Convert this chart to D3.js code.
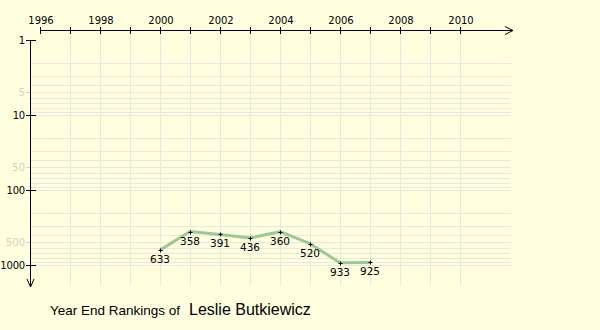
<!DOCTYPE html>
<html>
<head>
<meta charset="utf-8">
<script src="https://cdn.jsdelivr.net/npm/d3@7"></script>
<style>
body { margin: 0; background: #ffffe0; }
svg { display: block; }
</style>
</head>
<body>
<div id="chart"></div>
<script>
// rankings per year
var years = [2000, 2001, 2002, 2003, 2004, 2005, 2006, 2007];
var ranks = [633, 358, 391, 436, 360, 520, 933, 925];
var yearTicks = [1996, 1998, 2000, 2002, 2004, 2006, 2008, 2010];
var rankTicks = [1, 10, 100, 1000];
var rankMinorTicks = [5, 50, 500];
var playerName = "Leslie Butkiewicz";

var width = 600, height = 330;
var labelFont = "DejaVu Sans, Verdana, sans-serif";

var svg = d3.select("#chart")
    .append("svg")
    .attr("width", width)
    .attr("height", height)
    .style("background", "#ffffe0");

var x = d3.scaleLinear()
    .domain([1996, 2010])
    .range([40, 460]);

var y = d3.scaleLog()
    .domain([1, 1000])
    .range([40, 265]);

// grid lines
var gridY = [];
[1, 10, 100].forEach(function(d) {
    for (let k = 1; k <= 9; k++) gridY.push(d * k);
});
gridY.push(1000);

svg.append("g")
    .selectAll("line")
    .data(gridY.filter(d => d > 1))
    .enter()
    .append("line")
    .attr("x1", 30).attr("x2", 511)
    .attr("y1", d => Math.round(y(d)) + 0.5)
    .attr("y2", d => Math.round(y(d)) + 0.5)
    .attr("stroke", "#e8e8e0")
    .attr("stroke-width", 1);

svg.append("g")
    .selectAll("line")
    .data(d3.range(1997, 2011))
    .enter()
    .append("line")
    .attr("x1", d => Math.round(x(d)) + 0.5)
    .attr("x2", d => Math.round(x(d)) + 0.5)
    .attr("y1", 30).attr("y2", 286)
    .attr("stroke", "#e8e8e0")
    .attr("stroke-width", 1);

// top axis
var topAxis = svg.append("g");
topAxis.append("line")
    .attr("x1", x(1996)).attr("x2", 513)
    .attr("y1", 30.5).attr("y2", 30.5)
    .attr("stroke", "#000");
topAxis.append("path")
    .attr("d", "M505,26.5 L513,30.5 L505,34.5")
    .attr("fill", "none")
    .attr("stroke", "#000");
topAxis.selectAll(".tk")
    .data(d3.range(1996, 2011))
    .enter()
    .append("line")
    .attr("x1", d => Math.round(x(d)) + 0.5)
    .attr("x2", d => Math.round(x(d)) + 0.5)
    .attr("y1", 27).attr("y2", 34)
    .attr("stroke", "#000");
topAxis.selectAll("text")
    .data(yearTicks)
    .enter()
    .append("text")
    .attr("x", d => x(d) + 1)
    .attr("y", 24)
    .attr("text-anchor", "middle")
    .style("font-family", labelFont)
    .style("font-size", "10px")
    .text(d => d);

// left axis
var leftAxis = svg.append("g");
leftAxis.append("line")
    .attr("x1", 30.5).attr("x2", 30.5)
    .attr("y1", 40).attr("y2", 287)
    .attr("stroke", "#000");
leftAxis.append("path")
    .attr("d", "M27,279 L30.5,287 L34,279")
    .attr("fill", "none")
    .attr("stroke", "#000");
leftAxis.selectAll(".major")
    .data(rankTicks)
    .enter()
    .append("line")
    .attr("x1", 26).attr("x2", 36)
    .attr("y1", d => Math.round(y(d)) + 0.5)
    .attr("y2", d => Math.round(y(d)) + 0.5)
    .attr("stroke", "#000");
leftAxis.selectAll(".minor")
    .data(rankMinorTicks)
    .enter()
    .append("line")
    .attr("x1", 26).attr("x2", 30)
    .attr("y1", d => Math.round(y(d)) + 0.5)
    .attr("y2", d => Math.round(y(d)) + 0.5)
    .attr("stroke", "#d0d0c0");
leftAxis.selectAll(".majorLabel")
    .data(rankTicks)
    .enter()
    .append("text")
    .attr("x", 25)
    .attr("y", d => y(d) + 4)
    .attr("text-anchor", "end")
    .style("font-family", labelFont)
    .style("font-size", "10px")
    .style("letter-spacing", "-0.2px")
    .text(d => d);
leftAxis.selectAll(".minorLabel")
    .data(rankMinorTicks)
    .enter()
    .append("text")
    .attr("x", 25)
    .attr("y", d => y(d) + 4)
    .attr("text-anchor", "end")
    .attr("fill", "#d0d0c0")
    .style("font-family", labelFont)
    .style("font-size", "10px")
    .text(d => d);

// ranking line
var data = years.map((d, i) => ({year: d, rank: ranks[i]}));

svg.append("path")
    .datum(data)
    .attr("fill", "none")
    .attr("stroke", "#9dc995")
    .attr("stroke-width", 3)
    .attr("stroke-linejoin", "round")
    .attr("d", d3.line()
        .x(d => x(d.year))
        .y(d => y(d.rank)));

// point markers
svg.selectAll(".pt")
    .data(data)
    .enter()
    .append("path")
    .attr("d", d => {
        var px = Math.round(x(d.year)) + 0.5, py = Math.round(y(d.rank)) + 0.5;
        return `M${px - 2},${py} H${px + 2} M${px},${py - 2} V${py + 2}`;
    })
    .attr("stroke", "#000")
    .attr("stroke-width", 1);

svg.selectAll(".lbl")
    .data(data)
    .enter()
    .append("text")
    .attr("x", d => x(d.year))
    .attr("y", d => y(d.rank) + 13)
    .attr("text-anchor", "middle")
    .style("font-family", labelFont)
    .style("font-size", "10.5px")
    .text(d => d.rank);

// title
svg.append("text")
    .attr("x", 50)
    .attr("y", 315)
    .style("font-family", "Liberation Sans, Arial, sans-serif")
    .style("font-size", "13.5px")
    .text("Year End Rankings of");

svg.append("text")
    .attr("x", 189)
    .attr("y", 315)
    .style("font-family", "Liberation Sans, Arial, sans-serif")
    .style("font-size", "16px")
    .text(playerName);
</script>
</body>
</html>
